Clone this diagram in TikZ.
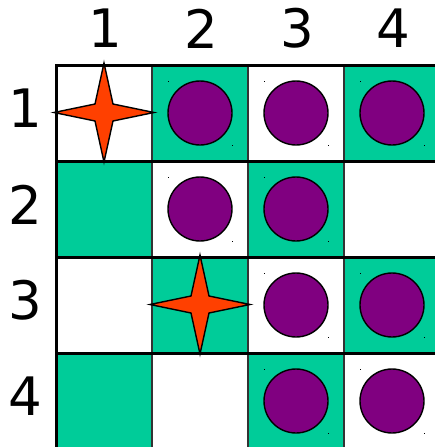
\documentclass[tikz,border=0pt]{standalone}
\usepackage{fontspec}
\setmainfont{DejaVu Sans}
\definecolor{teal1}{HTML}{00CC99}
\definecolor{purp}{HTML}{800080}
\definecolor{starred}{HTML}{FF4000}
\begin{document}
\begin{tikzpicture}[x=1pt,y=-1pt,
  lab/.style={font=\fontsize{53}{53}\selectfont, inner sep=0pt},
  coin/.style={circle, draw=black, line width=1.4pt, fill=purp, minimum size=64pt, inner sep=0pt},
  starshape/.style={draw=black, line width=1.4pt, fill=starred, line join=miter}]
\useasboundingbox (0,0) rectangle (435,447);
% cells
\foreach \r in {1,...,4}{
  \foreach \c in {1,...,4}{
    \pgfmathtruncatemacro{\odd}{mod(\r+\c,2)}
    \ifnum\odd=1
      \fill[teal1] ({56+(\c-1)*96},{65+(\r-1)*96}) rectangle +(96,96);
    \fi
  }
}
% grid lines
\foreach \i in {1,2,3}{
  \draw[line width=2pt, black!80] ({56+\i*96},65) -- ({56+\i*96},449);
}
\foreach \i in {1,2,3}{
  \draw[line width=3pt, black] (56,{65+\i*96}) -- (440,{65+\i*96});
}
\draw[line width=3pt, black] (56,449) -- (56,65) -- (440,65);
% labels
\foreach \c in {1,...,4}{
  \node[lab] (col\c) at ({9+\c*96},28.5) {\c};
  \node[lab] (row\c) at (25.5,{12.5+\c*96}) {\c};
}
% coins
\foreach \r/\c in {1/2,1/3,1/4,2/2,2/3,3/3,3/4,4/3,4/4}{
  \node[coin] (coin\r\c) at ({8+\c*96},{17+\r*96}) {};
  \fill ({8+\c*96-32.5},{17+\r*96-32.5}) rectangle +(1,1);
  \fill ({8+\c*96+31.5},{17+\r*96+31.5}) rectangle +(1,1);
}
% stars
\foreach \r/\c in {1/1,3/2}{
  \begin{scope}[shift={({8+\c*96},{17+\r*96-0.5})}]
    \draw[starshape] (-50,0) -- (-9,-8.5) -- (0,-49.5) -- (9,-8.5) -- (50,0) -- (9,8.5) -- (0,49.5) -- (-9,8.5) -- cycle;
  \end{scope}
}
\end{tikzpicture}
\end{document}
